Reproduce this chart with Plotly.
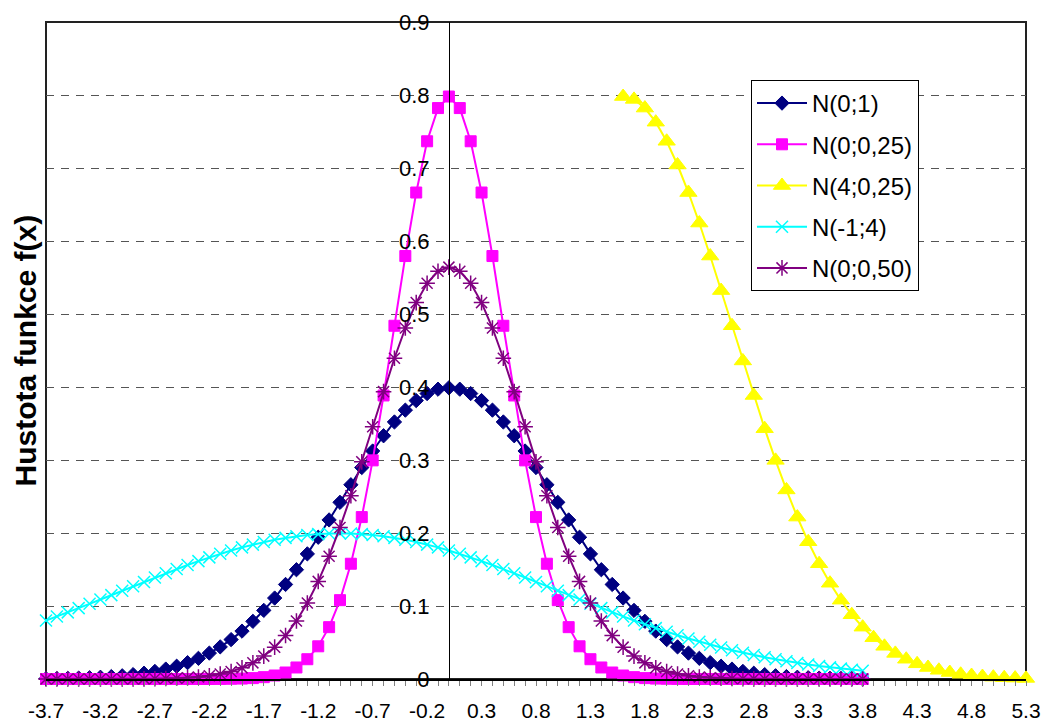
import plotly.graph_objects as go

# ---------------- data ----------------
X_MAIN = [-3.7, -3.6, -3.5, -3.4, -3.3, -3.2, -3.1, -3.0, -2.9, -2.8,
          -2.7, -2.6, -2.5, -2.4, -2.3, -2.2, -2.1, -2.0, -1.9, -1.8,
          -1.7, -1.6, -1.5, -1.4, -1.3, -1.2, -1.1, -1.0, -0.9, -0.8,
          -0.7, -0.6, -0.5, -0.4, -0.3, -0.2, -0.1, 0.0, 0.1, 0.2,
          0.3, 0.4, 0.5, 0.6, 0.7, 0.8, 0.9, 1.0, 1.1, 1.2,
          1.3, 1.4, 1.5, 1.6, 1.7, 1.8, 1.9, 2.0, 2.1, 2.2,
          2.3, 2.4, 2.5, 2.6, 2.7, 2.8, 2.9, 3.0, 3.1, 3.2,
          3.3, 3.4, 3.5, 3.6, 3.7, 3.8]

X_YELLOW = [1.6, 1.7, 1.8, 1.9, 2.0, 2.1, 2.2, 2.3, 2.4, 2.5,
            2.6, 2.7, 2.8, 2.9, 3.0, 3.1, 3.2, 3.3, 3.4, 3.5,
            3.6, 3.7, 3.8, 3.9, 4.0, 4.1, 4.2, 4.3, 4.4, 4.5,
            4.6, 4.7, 4.8, 4.9, 5.0, 5.1, 5.2, 5.3]

N_0_1 = [0.0004, 0.0006, 0.0009, 0.0012, 0.0017, 0.0024, 0.0033, 0.0044, 0.0060, 0.0079,
         0.0104, 0.0136, 0.0175, 0.0224, 0.0283, 0.0355, 0.0440, 0.0540, 0.0656, 0.0790,
         0.0940, 0.1109, 0.1295, 0.1497, 0.1714, 0.1942, 0.2179, 0.2420, 0.2661, 0.2897,
         0.3123, 0.3332, 0.3521, 0.3683, 0.3814, 0.3910, 0.3970, 0.3989, 0.3970, 0.3910,
         0.3814, 0.3683, 0.3521, 0.3332, 0.3123, 0.2897, 0.2661, 0.2420, 0.2179, 0.1942,
         0.1714, 0.1497, 0.1295, 0.1109, 0.0940, 0.0790, 0.0656, 0.0540, 0.0440, 0.0355,
         0.0283, 0.0224, 0.0175, 0.0136, 0.0104, 0.0079, 0.0060, 0.0044, 0.0033, 0.0024,
         0.0017, 0.0012, 0.0009, 0.0006, 0.0004, 0.0003]

N_0_025 = [0.0, 0.0, 0.0, 0.0, 0.0, 0.0, 0.0, 0.0, 0.0, 0.0,
           0.0, 0.0, 0.0, 0.0, 0.0, 0.0, 0.0001, 0.0003, 0.0006, 0.0012,
           0.0025, 0.0048, 0.0089, 0.0158, 0.0271, 0.0448, 0.0710, 0.1080, 0.1579, 0.2218,
           0.2995, 0.3884, 0.4839, 0.5794, 0.6664, 0.7366, 0.7821, 0.7979, 0.7821, 0.7366,
           0.6664, 0.5794, 0.4839, 0.3884, 0.2995, 0.2218, 0.1579, 0.1080, 0.0710, 0.0448,
           0.0271, 0.0158, 0.0089, 0.0048, 0.0025, 0.0012, 0.0006, 0.0003, 0.0001, 0.0,
           0.0, 0.0, 0.0, 0.0, 0.0, 0.0, 0.0, 0.0, 0.0, 0.0,
           0.0, 0.0, 0.0, 0.0, 0.0, 0.0]

N_4_025 = [0.7979, 0.7940, 0.7821, 0.7628, 0.7366, 0.7041, 0.6664, 0.6246, 0.5794, 0.5321,
           0.4839, 0.4357, 0.3884, 0.3429, 0.2995, 0.2590, 0.2218, 0.1880, 0.1579, 0.1312,
           0.1080, 0.0880, 0.0710, 0.0566, 0.0448, 0.0351, 0.0271, 0.0208, 0.0158, 0.0119,
           0.0089, 0.0065, 0.0048, 0.0034, 0.0025, 0.0017, 0.0012, 0.0008]

N_M1_4 = [0.0802, 0.0857, 0.0913, 0.0971, 0.1030, 0.1089, 0.1149, 0.1210, 0.1270, 0.1330,
          0.1390, 0.1448, 0.1506, 0.1561, 0.1615, 0.1666, 0.1715, 0.1760, 0.1803, 0.1841,
          0.1876, 0.1907, 0.1933, 0.1955, 0.1972, 0.1985, 0.1992, 0.1995, 0.1992, 0.1985,
          0.1972, 0.1955, 0.1933, 0.1907, 0.1876, 0.1841, 0.1803, 0.1760, 0.1715, 0.1666,
          0.1615, 0.1561, 0.1506, 0.1448, 0.1390, 0.1330, 0.1270, 0.1210, 0.1149, 0.1089,
          0.1030, 0.0971, 0.0913, 0.0857, 0.0802, 0.0749, 0.0697, 0.0648, 0.0600, 0.0555,
          0.0511, 0.0470, 0.0431, 0.0395, 0.0360, 0.0328, 0.0298, 0.0270, 0.0244, 0.0220,
          0.0198, 0.0177, 0.0159, 0.0142, 0.0126, 0.0112]

N_0_050 = [0.0, 0.0, 0.0, 0.0, 0.0, 0.0, 0.0, 0.0001, 0.0001, 0.0002,
           0.0004, 0.0007, 0.0011, 0.0018, 0.0028, 0.0045, 0.0069, 0.0103, 0.0153, 0.0221,
           0.0314, 0.0436, 0.0595, 0.0795, 0.1041, 0.1337, 0.1682, 0.2076, 0.2510, 0.2975,
           0.3456, 0.3936, 0.4394, 0.4808, 0.5156, 0.5421, 0.5586, 0.5642, 0.5586, 0.5421,
           0.5156, 0.4808, 0.4394, 0.3936, 0.3456, 0.2975, 0.2510, 0.2076, 0.1682, 0.1337,
           0.1041, 0.0795, 0.0595, 0.0436, 0.0314, 0.0221, 0.0153, 0.0103, 0.0069, 0.0045,
           0.0028, 0.0018, 0.0011, 0.0007, 0.0004, 0.0002, 0.0001, 0.0001, 0.0, 0.0,
           0.0, 0.0, 0.0, 0.0, 0.0, 0.0]

X_TICK_VALUES = [-3.7, -3.2, -2.7, -2.2, -1.7, -1.2, -0.7, -0.2, 0.3, 0.8,
                 1.3, 1.8, 2.3, 2.8, 3.3, 3.8, 4.3, 4.8, 5.3]
X_TICK_LABELS = ["-3.7", "-3.2", "-2.7", "-2.2", "-1.7", "-1.2", "-0.7", "-0.2", "0.3", "0.8",
                 "1.3", "1.8", "2.3", "2.8", "3.3", "3.8", "4.3", "4.8", "5.3"]
Y_TICK_VALUES = [0, 0.1, 0.2, 0.3, 0.4, 0.5, 0.6, 0.7, 0.8, 0.9]
Y_TICK_LABELS = ["0", "0.1", "0.2", "0.3", "0.4", "0.5", "0.6", "0.7", "0.8", "0.9"]

SERIES_NAMES = ["N(0;1)", "N(0;0,25)", "N(4;0,25)", "N(-1;4)", "N(0;0,50)"]
Y_TITLE = "Hustota funkce f(x)"

FONT = "Arial, 'Liberation Sans', sans-serif"

# ---------------- figure ----------------
fig = go.Figure()

styles = [
    (X_MAIN, N_0_1, "#000080", "diamond", 11, 1),
    (X_MAIN, N_0_025, "#FF00FF", "square", 11, 1),
    (X_YELLOW, N_4_025, "#FFFF00", "triangle-up", 15, 1),
    (X_MAIN, N_M1_4, "#00FFFF", "x-thin-open", 12, 1.5),
    (X_MAIN, N_0_050, "#800080", "asterisk-open", 13, 1.5),
]
for name, (xs, ys, col, sym, size, mlw) in zip(SERIES_NAMES, styles):
    fig.add_trace(go.Scatter(
        x=xs, y=ys, name=name, mode="lines+markers",
        line=dict(color=col, width=2),
        marker=dict(symbol=sym, size=size, color=col,
                    line=dict(color=col, width=mlw)),
        cliponaxis=False, legendgroup=name,
    ))

fig.update_layout(
    width=1045, height=725,
    margin=dict(l=46, r=19, t=22, b=46, autoexpand=False),
    paper_bgcolor="white", plot_bgcolor="white",
    font=dict(family=FONT, color="black", size=22),
    showlegend=True,
    legend=dict(
        x=(751 - 46) / 980, y=(679 - 80) / 657, xanchor="left", yanchor="top",
        bgcolor="white", bordercolor="black", borderwidth=1,
        font=dict(family=FONT, size=24, color="black"),
        tracegroupgap=7, itemwidth=50,
    ),
    xaxis=dict(
        range=[-3.7, 5.3], showgrid=False, zeroline=False, automargin=False,
        tickmode="array", tickvals=X_TICK_VALUES, ticktext=X_TICK_LABELS,
        ticks="outside", ticklen=5, tickcolor="#808080", tickwidth=1,
        showline=True, linecolor="black", linewidth=2,
        ticklabelstandoff=7,
        tickfont=dict(size=21),
        minor=dict(tickmode="linear", tick0=-3.7, dtick=0.1, ticks="outside",
                   ticklen=5, tickcolor="#808080", tickwidth=1, showgrid=False),
    ),
    yaxis=dict(
        range=[0, 0.9], anchor="free", position=3.7 / 9.0, automargin=False,
        tickmode="array", tickvals=Y_TICK_VALUES, ticktext=Y_TICK_LABELS,
        showgrid=True, gridcolor="#555555", griddash="8px,7px", gridwidth=1,
        zeroline=False, showline=True, linecolor="black", linewidth=1,
        ticks="", ticklabelstandoff=15, tickfont=dict(size=22),
    ),
    shapes=[dict(type="rect", xref="paper", yref="paper", x0=0, x1=1, y0=0, y1=1,
                 line=dict(color="#222222", width=2), layer="below")],
    annotations=[dict(text="<b>" + Y_TITLE + "</b>", xref="paper", yref="paper",
                      x=(25 - 46) / 980, y=0.5, xanchor="center", yanchor="middle",
                      textangle=-90, showarrow=False,
                      font=dict(family=FONT, size=30, color="black"))],
)

fig.write_html("out.html")
